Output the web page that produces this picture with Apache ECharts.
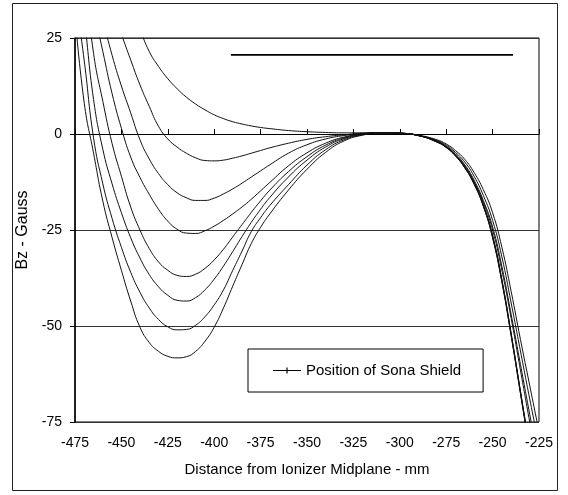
<!DOCTYPE html>
<html>
<head>
<meta charset="utf-8">
<script src="https://cdn.jsdelivr.net/npm/echarts@6/dist/echarts.min.js"></script>
<style>html,body{margin:0;padding:0;background:#fff}#c{width:568px;height:495px}</style>
</head>
<body>
<div id="c"></div>
<script>
// Distance from ionizer midplane (mm)
var xs = [-475,-470,-465,-460,-455,-450,-445,-440,-435,-430,-425,-420,-415,-410,-405,-400,-395,-390,-385,-380,-375,-370,-360,-350,-340,-330,-320,-310,-300,-290,-280,-275,-270,-265,-260,-255,-250,-245,-240,-235,-230,-225];
// Bz (Gauss) curves
var c1 = [null,null,null,null,null,null,35,27.5,21.5,17.6,14.4,11.8,9.6,7.8,6.3,5.0,4.0,3.2,2.6,2.1,1.7,1.4,0.9,0.6,0.4,0.3,0.3,0.3,0.2,-0.3,-1.5,-2.6,-4.3,-6.6,-10,-14.5,-20.5,-29.5,-41,-53.5,-65.5,-77.5];
var c2 = [null,null,null,null,33,26,19.3,12.8,7.2,2.0,-1.3,-3.4,-5,-6.2,-6.9,-7,-6.8,-6.3,-5.7,-5.0,-4.3,-3.6,-2.4,-1.4,-0.7,-0.2,0.2,0.3,0.2,-0.4,-1.7,-2.9,-4.8,-7.3,-11,-16,-22.5,-32,-44,-56.5,-69,-81];
var c3 = [null,null,41,30,20.5,12.5,5.5,-1.5,-6.5,-10.3,-13.2,-15.3,-16.6,-17.3,-17.3,-16.7,-15.6,-14.3,-12.8,-11.2,-9.6,-8.0,-5.0,-2.8,-1.3,-0.4,0.1,0.3,0.2,-0.4,-1.9,-3.2,-5.2,-8,-12,-17.3,-24.2,-34.5,-47,-60,-73,-86];
var c4 = [null,50,33,21.5,10.5,1.5,-6,-11.3,-15.7,-19.6,-22.7,-24.8,-25.8,-25.9,-25.2,-24,-22.5,-20.8,-19,-17,-14.8,-12.6,-8.3,-4.9,-2.4,-0.8,0,0.3,0.2,-0.4,-1.9,-3.3,-5.4,-8.3,-12.4,-17.8,-25,-35.5,-48,-61.5,-75,-88];
var c5 = [null,42,21,8.5,-2.5,-11,-19,-25,-29.8,-33.3,-35.5,-36.8,-37.1,-36.5,-35,-32.8,-30,-26.8,-23.6,-20.4,-17.4,-14.6,-9.8,-5.9,-2.9,-1.0,0,0.3,0.2,-0.4,-2.0,-3.4,-5.6,-8.6,-12.8,-18.5,-26.5,-38,-52,-67,-82,-97];
var c6 = [48,30,9,-4,-13,-20.5,-27,-32.3,-36.6,-39.8,-42,-43.3,-43.5,-42.6,-40.6,-37.8,-34.4,-30.6,-26.7,-23,-19.6,-16.5,-11.2,-6.8,-3.4,-1.2,-0.1,0.3,0.2,-0.4,-2.1,-3.5,-5.7,-8.8,-13,-18.8,-27,-38.5,-52.5,-67.5,-82.5,-97.5];
var c7 = [37,19,-1,-13,-22,-29.5,-36,-41.2,-45.3,-48.3,-50.2,-51,-50.9,-49.8,-47.6,-44.5,-40.6,-35.5,-30.5,-25.4,-21.8,-18.6,-13.2,-8.1,-4.1,-1.5,-0.2,0.3,0.2,-0.4,-2.0,-3.4,-5.6,-8.6,-12.8,-18.5,-26.5,-38,-52,-67,-82,-97];
var c8 = [31,8,-5,-17.5,-27,-35.5,-43.5,-50.3,-54.3,-56.6,-57.9,-58.3,-58,-56.6,-54,-50.3,-45.3,-39.6,-34,-28.5,-24.3,-20.8,-14.6,-9.2,-4.8,-1.8,-0.3,0.3,0.2,-0.4,-2.1,-3.5,-5.7,-8.8,-13,-18.8,-27,-38.5,-52.5,-67.5,-82.5,-97.5];
// Position of Sona Shield
var shieldX = [-391, -239];
var shieldY = [20.6, 20.6];
var xTicks = [-475,-450,-425,-400,-375,-350,-325,-300,-275,-250,-225];
var yTicks = [-75,-50,-25,0,25];

var curves = [c1,c2,c3,c4,c5,c6,c7,c8];
var FONT = "'Liberation Sans', Arial, sans-serif";
function pairs(xa, ya){ return xa.map(function(x,i){ return [x, ya[i]]; }); }

var series = curves.map(function(c, i){
  return {
    name: 'Curve ' + (i+1),
    type: 'line',
    data: pairs(xs, c),
    showSymbol: false,
    symbol: 'none',
    smooth: 0.5,
    clip: true,
    lineStyle: {color: '#111', width: 1},
    itemStyle: {color: '#111'},
    silent: true,
    z: 3
  };
});
series.push({
  name: 'Position of Sona Shield',
  type: 'line',
  data: pairs(shieldX, shieldY),
  symbol: 'none',
  lineStyle: {color: '#000', width: 1.6},
  itemStyle: {color: '#000'},
  z: 4
});

var chart = echarts.init(document.getElementById('c'), null, {renderer: 'canvas'});
chart.setOption({
  animation: false,
  backgroundColor: '#fff',
  textStyle: {fontFamily: FONT},
  grid: {left: 75, right: 29, top: 38, bottom: 73, show: true, borderColor: '#000', borderWidth: 1, backgroundColor: 'transparent'},
  xAxis: {
    type: 'value', min: xTicks[0], max: xTicks[xTicks.length-1], interval: 25,
    axisLine: {lineStyle: {color: '#000', width: 1}},
    axisTick: {inside: true, length: 5, lineStyle: {color: '#000'}},
    axisLabel: {color: '#000', fontSize: 14, fontFamily: FONT, margin: 14},
    splitLine: {show: false},
    name: 'Distance from Ionizer Midplane - mm',
    nameLocation: 'middle', nameGap: 40,
    nameTextStyle: {color: '#000', fontSize: 15, fontFamily: FONT}
  },
  yAxis: {
    type: 'value', min: yTicks[0], max: yTicks[yTicks.length-1], interval: 25,
    axisLine: {show: true, lineStyle: {color: '#000', width: 1.5}},
    axisTick: {show: true, inside: false, length: 5, lineStyle: {color: '#000'}},
    axisLabel: {color: '#000', fontSize: 14, fontFamily: FONT, margin: 13},
    splitLine: {show: true, lineStyle: {color: '#333', width: 1}},
    name: 'Bz - Gauss',
    nameLocation: 'middle', nameGap: 38, nameRotate: 90,
    nameTextStyle: {color: '#000', fontSize: 16, fontFamily: FONT}
  },
  legend: {
    data: [{name: 'Position of Sona Shield', icon: 'path://M0,3.4L28,3.4L28,4.6L0,4.6Z M13.4,1L14.6,1L14.6,7L13.4,7Z'}],
    left: 248, top: 349,
    padding: [14, 22, 14, 25],
    itemWidth: 28, itemHeight: 8, itemGap: 0,
    backgroundColor: '#fff',
    borderColor: '#000', borderWidth: 1,
    textStyle: {color: '#000', fontSize: 15, fontFamily: FONT},
    selectedMode: false
  },
  graphic: [{
    type: 'rect', silent: true,
    shape: {x: 12.5, y: 3.5, width: 545, height: 487},
    style: {fill: 'none', stroke: '#222', lineWidth: 1}
  }],
  series: series
});
</script>
</body>
</html>
